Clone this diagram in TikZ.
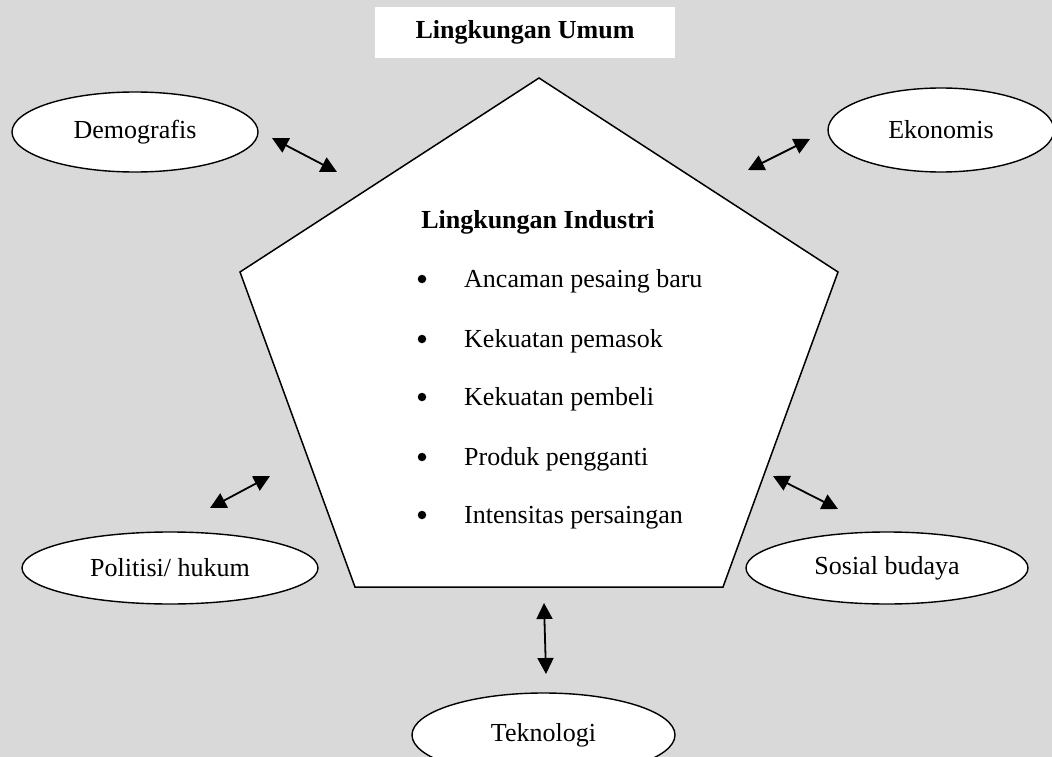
\documentclass[tikz,border=0pt]{standalone}
\usepackage{fontspec}
\setmainfont{Liberation Serif}
\usetikzlibrary{arrows.meta,shapes.geometric}
\definecolor{bgc}{HTML}{D9D9D9}
\begin{document}
\begin{tikzpicture}[x=1pt,y=-1pt,
  txt/.style={font=\fontsize{26}{30}\selectfont, inner sep=0pt},
  bul/.style={circle, fill=black, minimum size=8.5pt, inner sep=0pt},
  ell/.style={ellipse, draw, fill=white, line width=1.4pt, inner sep=0pt, font=\fontsize{26}{30}\selectfont},
  dbl/.style={{Triangle[length=16pt,width=16pt]}-{Triangle[length=16pt,width=16pt]}, line width=1.8pt},
  edge/.style={draw, line width=1.5pt, line join=miter, fill=white}]
\fill[bgc] (0,0) rectangle (1052,757);
\useasboundingbox (0,0) rectangle (1052,757);

% title box
\node[fill=white, minimum width=300pt, minimum height=51pt, inner sep=0pt,
      font=\fontsize{26}{30}\selectfont\bfseries] (umum) at (525,32.5) {Lingkungan Umum};

% pentagon
\coordinate (pT) at (539,78);
\coordinate (pR) at (838,272);
\coordinate (pBR) at (723,587);
\coordinate (pBL) at (355,587);
\coordinate (pL) at (240,272);
\path[edge] (pT) -- (pR) -- (pBR) -- (pBL) -- (pL) -- cycle;

\node[txt, font=\fontsize{26}{30}\selectfont\bfseries, anchor=base] (ind) at (538,228) {Lingkungan Industri};
\foreach \t/\y/\n in {Ancaman pesaing baru/287/1, Kekuatan pemasok/347/2, Kekuatan pembeli/405/3, Produk pengganti/465/4, Intensitas persaingan/523/5}{
  \node[bul] (b\n) at (422,\y-8) {};
  \node[txt, anchor=base west] (i\n) at (464,\y) {\t};
}

% ellipses
\node[ell, minimum width=246pt, minimum height=80pt] (demo) at (135,132) {Demografis};
\node[ell, minimum width=226pt, minimum height=84pt] (eko) at (941,130) {Ekonomis};
\node[ell, minimum width=296pt, minimum height=72pt] (pol) at (170,568) {Politisi/ hukum};
\node[ell, minimum width=282pt, minimum height=72pt] (sos) at (887,568) {Sosial budaya};
\node[ell, minimum width=263pt, minimum height=84pt] (tek) at (543.5,735) {Teknologi};

% arrow ends
\coordinate (d1) at (272,138); \coordinate (d2) at (337,172);
\coordinate (e1) at (748,170); \coordinate (e2) at (810,139);
\coordinate (p1) at (210,508); \coordinate (p2) at (270,476);
\coordinate (s1) at (773,476); \coordinate (s2) at (838,509);
\coordinate (t1) at (544,603); \coordinate (t2) at (546,674);

\draw[dbl] (d1) -- (d2);
\draw[dbl] (e1) -- (e2);
\draw[dbl] (p1) -- (p2);
\draw[dbl] (s1) -- (s2);
\draw[dbl] (t1) -- (t2);
\end{tikzpicture}
\end{document}
